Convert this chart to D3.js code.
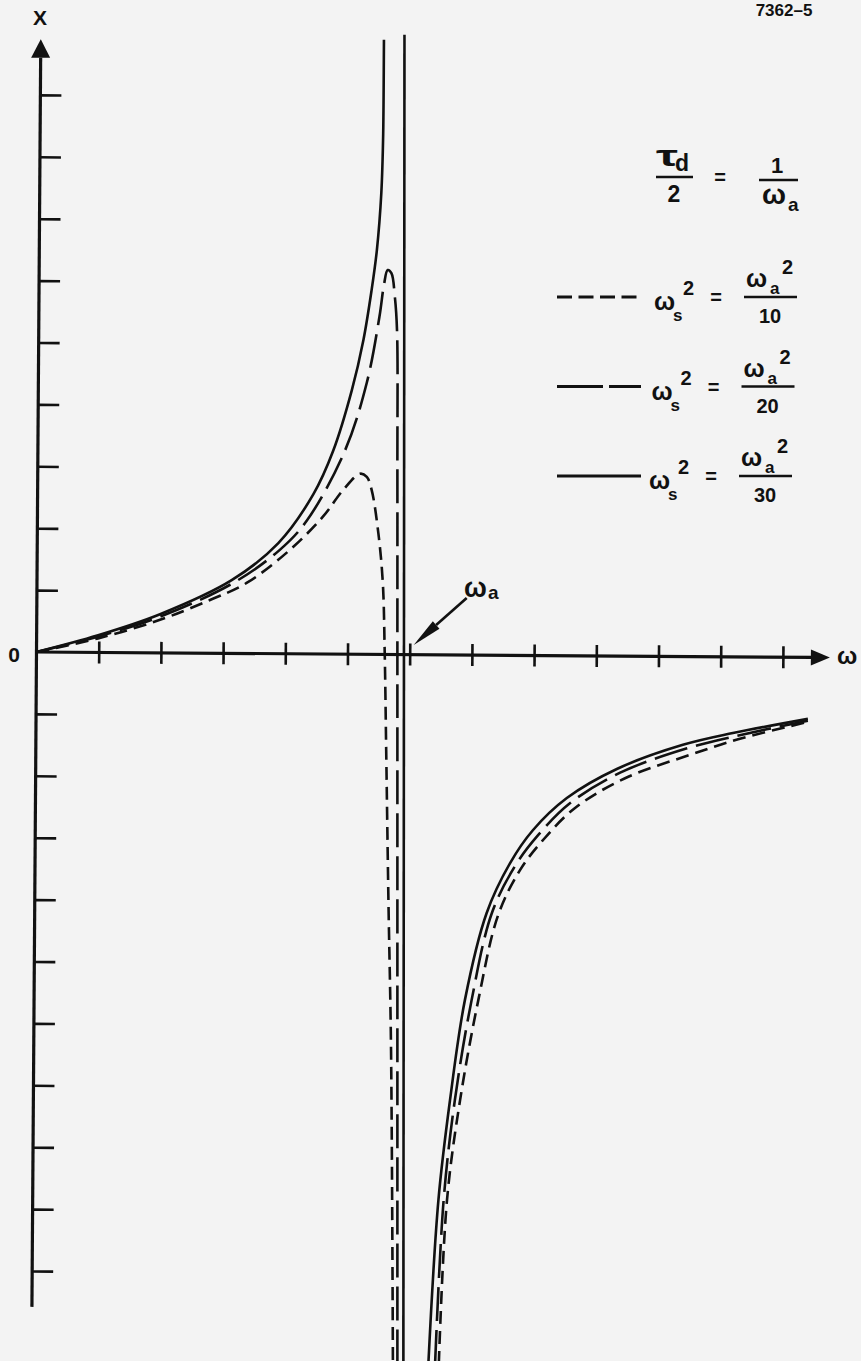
<!DOCTYPE html>
<html>
<head>
<meta charset="UTF-8">
<title>Reactance X versus ω</title>
<script src="https://d3js.org/d3.v7.min.js"></script>
<style>
  body { margin: 0; background: #f3f3f3; }
  svg { display: block; }
  text { font-family: "Liberation Sans", Arial, sans-serif; font-weight: bold; fill: #111; }
</style>
</head>
<body>
<svg></svg>
<script>
const width = 861, height = 1361;

// x in units of ω/ωa (tick every ωa/6), y in tick units
const xTicks = d3.range(1, 13).map(k => k / 6);
const yTicks = d3.range(-10, 10).filter(k => k !== 0);
const denominators = [10, 20, 30];

// ωs² = ωa²/10 (short dash)
const short10Left = [[0,0],[0.165,0.22],[0.331,0.52],[0.465,0.84],[0.563,1.115],[0.679,1.65],[0.768,2.19],
  [0.822,2.62],[0.867,2.88],[0.885,2.83],[0.898,2.62],[0.916,1.92],[0.928,1.115],[0.933,0],
  [0.937,-1.58],[0.943,-4.01],[0.95,-6.43],[0.955,-11.5]];
const short10Right = [[1.078,-11.5],[1.1,-8.85],[1.135,-7.24],[1.184,-5.62],[1.237,-4.25],[1.296,-3.52],
  [1.357,-3.04],[1.443,-2.52],[1.577,-2.04],[1.752,-1.66],[1.88,-1.41],[2.067,-1.13]];

// ωs² = ωa²/20 (long dash)
const long20Left = [[0,0],[0.165,0.25],[0.331,0.57],[0.527,1.115],[0.652,1.65],[0.724,2.12],[0.827,3.26],
  [0.885,4.35],[0.919,5.42],[0.931,5.93],[0.941,6.17],[0.951,6.12],[0.96,5.75],[0.966,5.2],
  [0.967,3.0],[0.967,0],[0.967,-5.6],[0.967,-11.5]];
const long20Right = [[1.068,-11.5],[1.091,-8.85],[1.121,-7.24],[1.166,-5.62],[1.22,-4.22],[1.282,-3.46],
  [1.344,-2.96],[1.43,-2.44],[1.564,-1.95],[1.741,-1.56],[1.872,-1.36],[2.067,-1.11]];

// ωs² = ωa²/30 (solid)
const solid30Left = [[0,0],[0.165,0.27],[0.331,0.61],[0.523,1.16],[0.648,1.76],[0.742,2.55],[0.795,3.25],
  [0.845,4.23],[0.876,5.04],[0.898,5.85],[0.912,6.49],[0.924,7.42],[0.929,8.38],[0.931,9.89]];
const solid30Fall = [[0.986,9.97],[0.983,-11.5]];
const solid30Right = [[1.05,-11.5],[1.077,-8.85],[1.108,-7.24],[1.148,-5.62],[1.206,-4.22],[1.269,-3.41],
  [1.33,-2.88],[1.421,-2.36],[1.555,-1.89],[1.732,-1.5],[1.866,-1.31],[2.067,-1.08]];

const series = [
  { dash: "13,7", legendDash: "15,6.5", branches: [short10Left, short10Right] },
  { dash: "34,9", legendDash: "46,6", branches: [long20Left, long20Right] },
  { dash: null, legendDash: null, branches: [solid30Left, solid30Fall, solid30Right] }
];

const svg = d3.select("svg").attr("width", width).attr("height", height);
svg.append("rect").attr("width", width).attr("height", height).attr("fill", "#f3f3f3");

const X = d3.scaleLinear().domain([0, 2]).range([36.5, 782.9]);
const Y = d3.scaleLinear().domain([-10, 10]).range([1271, 33]);
const ink = "#111";

// axes (the scan is turned very slightly clockwise)
const ax = svg.append("g").attr("transform", `rotate(0.4, ${X(0)}, ${Y(0)})`);

ax.append("line").attr("x1", X(0)).attr("x2", X(0))
  .attr("y1", Y(-10.58)).attr("y2", Y(9.6))
  .attr("stroke", ink).attr("stroke-width", 3.2);
ax.append("path")
  .attr("d", `M${X(0)},${Y(9.9)} L${X(0) - 9.5},${Y(9.6)} L${X(0) + 9.5},${Y(9.6)} Z`)
  .attr("fill", ink);

ax.append("line").attr("x1", X(0)).attr("x2", X(2.08))
  .attr("y1", Y(0)).attr("y2", Y(0))
  .attr("stroke", ink).attr("stroke-width", 3.2);
ax.append("path")
  .attr("d", `M${X(2.126)},${Y(0)} L${X(2.075)},${Y(0) - 8} L${X(2.075)},${Y(0) + 8} Z`)
  .attr("fill", ink);

ax.append("g")
  .attr("transform", `translate(${X(0)},0)`)
  .attr("color", ink)
  .call(d3.axisRight(Y).tickValues(yTicks).tickSize(21).tickFormat(""))
  .call(g => g.select(".domain").remove())
  .call(g => g.selectAll(".tick line").attr("stroke-width", 2.6));

ax.append("g")
  .attr("transform", `translate(0,${Y(0) - 11})`)
  .attr("color", ink)
  .call(d3.axisBottom(X).tickValues(xTicks).tickSize(22).tickFormat(""))
  .call(g => g.select(".domain").remove())
  .call(g => g.selectAll(".tick line").attr("stroke-width", 2.6));

// curves
const line = d3.line().x(d => X(d[0])).y(d => Y(d[1])).curve(d3.curveCatmullRom.alpha(0.5));

series.forEach(s => {
  svg.append("g").selectAll("path")
    .data(s.branches)
    .join("path")
    .attr("d", line)
    .attr("fill", "none")
    .attr("stroke", ink)
    .attr("stroke-width", 2.6)
    .attr("stroke-dasharray", s.dash);
});

// labels
function txt(x, y, s, size, anchor) {
  return svg.append("text").attr("x", x).attr("y", y)
    .attr("font-size", size).attr("text-anchor", anchor || "start").text(s);
}
function bar(x1, x2, y) {
  svg.append("line").attr("x1", x1).attr("x2", x2).attr("y1", y).attr("y2", y)
    .attr("stroke", ink).attr("stroke-width", 2.4);
}

txt(784, 16, "7362–5", 17, "middle");
txt(40, 25, "X", 21, "middle");
txt(14, 662, "0", 21, "middle");
txt(837, 664, "ω", 24);

// ωa marker
txt(464, 597, "ω", 27);
txt(488, 599, "a", 19);
const tip = [X(1) + 4, Y(0) - 7], tail = [X(1) + 57, Y(0) - 54];
const ang = Math.atan2(tail[1] - tip[1], tail[0] - tip[0]);
const hb = [tip[0] + 30 * Math.cos(ang), tip[1] + 30 * Math.sin(ang)];
svg.append("line").attr("x1", hb[0]).attr("y1", hb[1]).attr("x2", tail[0]).attr("y2", tail[1])
  .attr("stroke", ink).attr("stroke-width", 2.6);
svg.append("path")
  .attr("d", `M${tip[0]},${tip[1]} L${hb[0] - 5 * Math.sin(ang)},${hb[1] + 5 * Math.cos(ang)} L${hb[0] + 5 * Math.sin(ang)},${hb[1] - 5 * Math.cos(ang)} Z`)
  .attr("fill", ink);

// τd/2 = 1/ωa
txt(656, 166, "τ", 29).attr("textLength", 22).attr("lengthAdjust", "spacingAndGlyphs");
txt(675, 171, "d", 23);
bar(656, 693, 177);
txt(674, 202, "2", 23, "middle");
txt(720, 184, "=", 20, "middle");
txt(777, 173, "1", 22, "middle");
bar(759, 798, 180);
txt(762, 204, "ω", 27).attr("textLength", 24).attr("lengthAdjust", "spacingAndGlyphs");
txt(788, 211, "a", 19);

// legend
series.forEach((s, i) => {
  const b = 297 + 89.5 * i, dx = -2.5 * i;
  svg.append("line").attr("x1", 557).attr("x2", 641).attr("y1", b).attr("y2", b)
    .attr("stroke", ink).attr("stroke-width", 3.2).attr("stroke-dasharray", s.legendDash);
  txt(654 + dx, b + 13, "ω", 25);
  txt(673 + dx, b + 24, "s", 17);
  txt(683 + dx, b - 2, "2", 20);
  txt(716 + dx, b + 7, "=", 20, "middle");
  txt(746 + dx, b - 10, "ω", 25);
  txt(770 + dx, b - 3, "a", 17);
  txt(782 + dx, b - 23, "2", 20);
  bar(744 + dx, 797 + dx, b);
  txt(770 + dx, b + 26, denominators[i], 20, "middle");
});
</script>
</body>
</html>
